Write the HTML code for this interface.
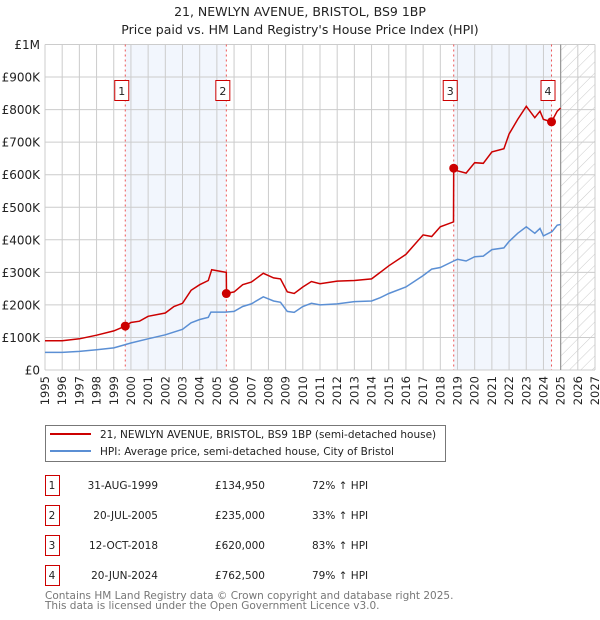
<!DOCTYPE html>
<html><head><meta charset="utf-8"><style>
body{margin:0;background:#fff;}
svg{display:block;font-family:"DejaVu Sans","Liberation Sans",sans-serif;}
</style></head><body>
<svg id="chart" width="600" height="620" viewBox="0 0 600 620">
<text x="300" y="16" text-anchor="middle" font-size="12.5" fill="#222">21, NEWLYN AVENUE, BRISTOL, BS9 1BP</text>
<text x="300" y="34" text-anchor="middle" font-size="12.5" fill="#222">Price paid vs. HM Land Registry's House Price Index (HPI)</text>
<g id="plot"></g>
<g>
<rect x="45.5" y="425.5" width="400" height="36" fill="#fff" stroke="#777"/>
<line x1="50" y1="434" x2="91" y2="434" stroke="#cc0000" stroke-width="2"/>
<text x="100" y="438" font-size="10.5" fill="#222">21, NEWLYN AVENUE, BRISTOL, BS9 1BP (semi-detached house)</text>
<line x1="50" y1="451" x2="91" y2="451" stroke="#5b8fd4" stroke-width="2"/>
<text x="100" y="455" font-size="10.5" fill="#222">HPI: Average price, semi-detached house, City of Bristol</text>
</g>
<g id="table" font-size="10.5" fill="#222"></g>
<text x="45" y="599" font-size="10.5" fill="#777">Contains HM Land Registry data © Crown copyright and database right 2025.</text>
<text x="45" y="609" font-size="10.5" fill="#777">This data is licensed under the Open Government Licence v3.0.</text>
</svg>
<script>
const hpiYears=[1995,1996,1997,1998,1999,1999.67,2000,2001,2002,2003,2003.5,2004,2004.5,2004.65,2005.5,2006,2006.5,2007,2007.7,2008.3,2008.7,2009.1,2009.5,2010,2010.5,2011,2012,2013,2014,2014.5,2015,2016,2017,2017.5,2018,2018.78,2019,2019.5,2020,2020.5,2021,2021.7,2022,2022.5,2023,2023.5,2023.8,2024,2024.5,2024.8,2025];
const hpiValues=[54000,54000,57000,62000,68000,78000,83000,96000,108000,125000,145000,155000,162000,178000,178000,180000,195000,203000,225000,212000,208000,180000,177000,195000,205000,200000,203000,210000,212000,222000,235000,255000,290000,310000,315000,335000,340000,335000,348000,350000,370000,375000,395000,420000,440000,420000,435000,412000,425000,445000,447000];
const redYears=[1995,1996,1997,1998,1999,1999.67,2000,2000.5,2001,2002,2002.5,2003,2003.5,2004,2004.5,2004.7,2005.55,2005.56,2006,2006.5,2007,2007.7,2008.3,2008.7,2009.1,2009.5,2010,2010.5,2011,2012,2013,2014,2014.5,2015,2016,2017,2017.5,2018,2018.77,2018.78,2019,2019.5,2020,2020.5,2021,2021.7,2022,2022.5,2023,2023.5,2023.8,2024,2024.47,2024.8,2025];
const redValues=[90000,90000,96000,107000,120000,135000,146000,150000,165000,175000,195000,205000,245000,262000,275000,308000,300000,235000,240000,262000,270000,297000,283000,280000,240000,235000,255000,272000,265000,273000,275000,280000,300000,320000,355000,415000,410000,440000,455000,620000,612000,605000,637000,635000,670000,680000,725000,770000,810000,775000,795000,770000,762500,795000,805000];
const saleLabels=["1","2","3","4"];
const saleYears=[1999.67,2005.55,2018.78,2024.47];
const salePrices=[134950,235000,620000,762500];
const saleDates=["31-AUG-1999","20-JUL-2005","12-OCT-2018","20-JUN-2024"];
const salePriceText=["£134,950","£235,000","£620,000","£762,500"];
const salePct=["72% ↑ HPI","33% ↑ HPI","83% ↑ HPI","79% ↑ HPI"];
const yTicks=[0,100000,200000,300000,400000,500000,600000,700000,800000,900000,1000000];
const yTickLabels=["£0","£100K","£200K","£300K","£400K","£500K","£600K","£700K","£800K","£900K","£1M"];
const xTicks=[1995,1996,1997,1998,1999,2000,2001,2002,2003,2004,2005,2006,2007,2008,2009,2010,2011,2012,2013,2014,2015,2016,2017,2018,2019,2020,2021,2022,2023,2024,2025,2026,2027];

const X0=45,X1=595,Y0=370,Y1=44.5;
const sx=y=>X0+(y-1995)/(2027-1995)*(X1-X0);
const sy=v=>Y0-v/1000000*(Y0-Y1);
const NS="http://www.w3.org/2000/svg";
const plot=document.getElementById('plot');
function mk(tag,attrs,parent){const e=document.createElementNS(NS,tag);for(const k in attrs)e.setAttribute(k,attrs[k]);(parent||plot).appendChild(e);return e;}

for(const [a,b] of [[0,1],[2,3]]){
  const r=mk('rect',{x:sx(saleYears[a]),y:Y1,width:sx(saleYears[b])-sx(saleYears[a]),height:Y0-Y1,fill:'#f2f6fd'});
  
  
}
const defs=mk('defs',{});
const pat=mk('pattern',{id:'hatch',width:8,height:8,patternUnits:'userSpaceOnUse',patternTransform:'rotate(45)'},defs);
mk('line',{x1:0,y1:0,x2:0,y2:8,stroke:'#ccc','stroke-width':1},pat);
const hr=mk('rect',{x:sx(2025),y:Y1,width:X1-sx(2025),height:Y0-Y1,fill:'url(#hatch)'});


xTicks.forEach((t,i)=>{
  const l=mk('line',{x1:sx(t),x2:sx(t),y1:Y1,y2:Y0,stroke:'#ccc','stroke-width':1});
  
  
  const tx=mk('text',{x:0,y:0,'font-size':11.5,fill:'#222','text-anchor':'end',transform:`translate(${sx(t)+4},${Y0+6}) rotate(-90)`});
  tx.textContent=t;
  
  
});
yTicks.forEach((t,i)=>{
  const l=mk('line',{x1:X0,x2:X1,y1:sy(t),y2:sy(t),stroke:'#ccc','stroke-width':1});
  
  
  const tx=mk('text',{x:X0-5,y:sy(t)+4.5,'font-size':12,fill:'#222','text-anchor':'end'});
  tx.textContent=yTickLabels[i];
  
  
});
const cl=mk('line',{x1:sx(2025),x2:sx(2025),y1:Y1,y2:Y0,stroke:'#999','stroke-width':1.2});


saleYears.forEach((y,i)=>{
  const l=mk('line',{x1:sx(y),x2:sx(y),y1:Y1,y2:Y0,stroke:'#ee5555','stroke-width':1,'stroke-dasharray':'2,3'});
  
  
  const r=mk('rect',{x:sx(y)-10.5,y:80.5,width:14,height:20,fill:'#fff',stroke:'#cc0000'});
  
  
  const t=mk('text',{x:sx(y)-3.5,y:95,'font-size':11,fill:'#222','text-anchor':'middle'});
  t.textContent=saleLabels[i];
  
  
});
function pathOf(xs,vs){return xs.map((x,i)=>(i?'L':'M')+sx(x).toFixed(1)+','+sy(vs[i]).toFixed(1)).join('');}
const hp=mk('path',{d:pathOf(hpiYears,hpiValues),fill:'none',stroke:'#5b8fd4','stroke-width':1.5});


const rp=mk('path',{d:pathOf(redYears,redValues),fill:'none',stroke:'#cc0000','stroke-width':1.5});


saleYears.forEach((y,i)=>{
  const c=mk('circle',{cx:sx(y),cy:sy(salePrices[i]),r:4.5,fill:'#cc0000'});
  
  
});
const tb=document.getElementById('table');
saleLabels.forEach((s,i)=>{
  const y0=475+i*30;
  const r=mk('rect',{x:45.5,y:y0+0.5,width:14,height:20,fill:'#fff',stroke:'#cc0000'},tb);
  
  
  const cells=[[52,s,'middle'],[158,saleDates[i],'end'],[265,salePriceText[i],'end'],[312,salePct[i],'start']];
  cells.forEach(([x,txt,an],j)=>{
    const t=mk('text',{x:x,y:y0+14,'text-anchor':an},tb);
    t.textContent=txt;
    
    
  });
});
</script>
</body></html>
